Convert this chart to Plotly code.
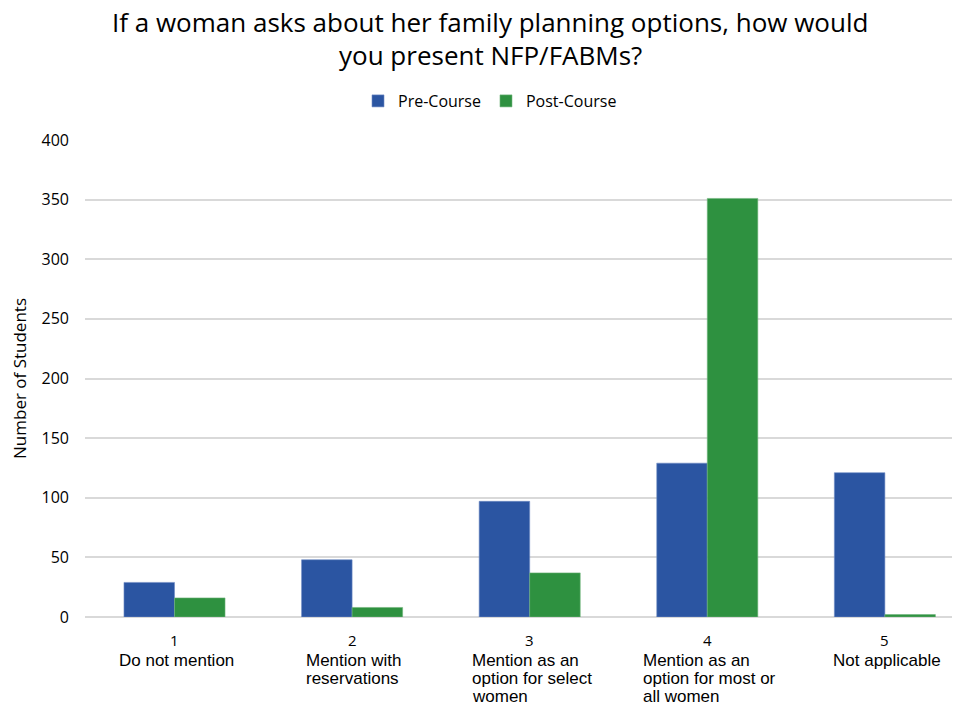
import plotly.graph_objects as go

codes = ["1", "2", "3", "4", "5"]
descriptions = [
    ["Do not mention"],
    ["Mention with", "reservations"],
    ["Mention as an", "option for select", "women"],
    ["Mention as an", "option for most or", "all women"],
    ["Not applicable"],
]
pre_course = [29, 48, 97, 129, 121]
post_course = [16, 8, 37, 351, 2]
y_ticks = [0, 50, 100, 150, 200, 250, 300, 350, 400]
title_lines = ["If a woman asks about her family planning options, how would",
               "you present NFP/FABMs?"]

BLUE = "#2B55A2"
GREEN = "#2E9140"
LABEL_SIZE = 17

FIG_W, FIG_H = 952, 699
M_L, M_R, M_T, M_B = 77, 0, 132, 90
PLOT_W = FIG_W - M_L - M_R
PLOT_H = FIG_H - M_T - M_B

# approximate Arial advance widths (em) to left-align wrapped labels as a centred block
_W = dict(a=.556, b=.556, c=.5, d=.556, e=.556, f=.278, g=.556, h=.556, i=.222, j=.222,
          k=.5, l=.222, m=.833, n=.556, o=.556, p=.556, q=.556, r=.333, s=.5, t=.278,
          u=.556, v=.5, w=.722, x=.5, y=.5, z=.5)
_W.update({" ": .278, "M": .833, "D": .722, "N": .722})


def text_width(s, size):
    return sum(_W.get(ch, .556) for ch in s) * size


fig = go.Figure()
fig.add_trace(go.Bar(x=codes, y=pre_course, name="Pre-Course",
                     marker=dict(color=BLUE, line=dict(color="#6f8cc4", width=0.6))))
fig.add_trace(go.Bar(x=codes, y=post_course, name="Post-Course",
                     marker=dict(color=GREEN, line=dict(color="#6fb47a", width=0.6))))

annotations = []
for idx, (code, lines) in enumerate(zip(codes, descriptions)):
    annotations.append(dict(x=idx, xref="x", y=0, yref="y", text=code,
                            showarrow=False, xanchor="center", yanchor="middle",
                            yshift=-23, font=dict(family="Open Sans", size=15, color="#000")))
    block = max(text_width(l, LABEL_SIZE) for l in lines)
    for i, line in enumerate(lines):
        annotations.append(dict(x=idx, xref="x", y=0, yref="y", text=line,
                                showarrow=False, xanchor="left", yanchor="middle",
                                xshift=-block / 2, yshift=-43 - 18 * i,
                                font=dict(family="Liberation Sans", size=LABEL_SIZE, color="#000")))

# title as two centred lines, placed in paper coordinates above the plot area
for i, t in enumerate(title_lines):
    px_y = 14 + 33 * i
    annotations.append(dict(x=(482 - M_L) / PLOT_W, xref="paper",
                            y=(FIG_H - M_B - px_y) / PLOT_H, yref="paper",
                            text=t, showarrow=False, xanchor="center", yanchor="middle",
                            font=dict(family="Open Sans", size=26, color="#000")))

fig.update_layout(
    width=FIG_W, height=FIG_H,
    margin=dict(l=M_L, r=M_R, t=M_T, b=M_B),
    paper_bgcolor="white", plot_bgcolor="white",
    legend=dict(orientation="h", x=482/FIG_W, xanchor="center", xref="container",
                y=1 - 93/FIG_H, yanchor="middle", yref="container",
                font=dict(family="Open Sans", size=16, color="#000"),
                itemwidth=30, traceorder="normal"),
    barmode="group", bargap=0.431, bargroupgap=0,
    xaxis=dict(type="category", range=[-0.504, 4.423], showticklabels=False, showgrid=False,
               showline=False, zeroline=False, ticks=""),
    yaxis=dict(range=[0, 400], tickvals=y_ticks, showgrid=True, gridcolor="#d9d9d9",
               gridwidth=1.5, zeroline=True, zerolinecolor="#d9d9d9", zerolinewidth=1.5,
               showline=False, ticks="", ticklabelstandoff=15,
               tickfont=dict(family="Open Sans", size=16, color="#000"),
               title=dict(text="Number of Students", standoff=12,
                          font=dict(family="Open Sans", size=17, color="#000"))),
    annotations=annotations,
)

fig.write_html("out.html")
